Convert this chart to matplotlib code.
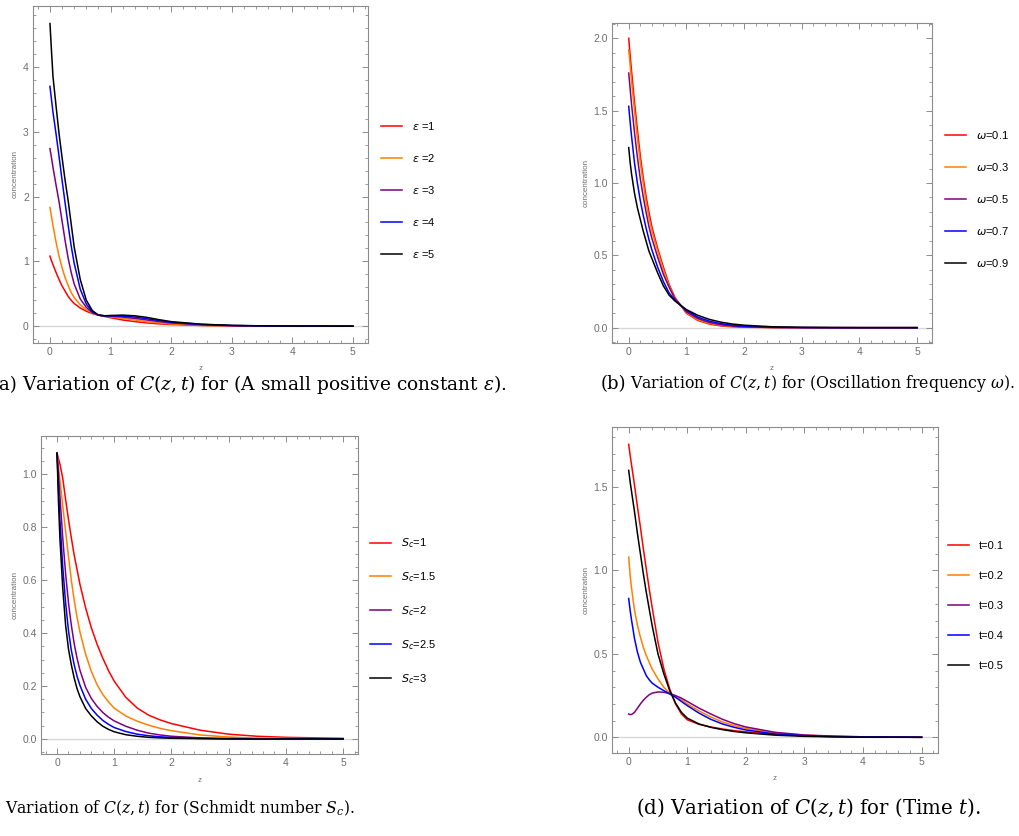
import matplotlib
matplotlib.use("Agg")
import matplotlib.pyplot as plt
from matplotlib.lines import Line2D
from matplotlib.ticker import MultipleLocator, FormatStrFormatter

# z grid shared by all panels
z = [0, 0.025, 0.05, 0.1, 0.15, 0.2, 0.25, 0.3, 0.35, 0.4, 0.5, 0.6, 0.7, 0.8,
     0.9, 1.0, 1.2, 1.4, 1.6, 1.8, 2.0, 2.5, 3.0, 3.5, 4.0, 5.0]

# (a) small positive constant epsilon
eps_labels = [r"$\epsilon$ =1", r"$\epsilon$ =2", r"$\epsilon$ =3", r"$\epsilon$ =4", r"$\epsilon$ =5"]
conc_eps = [
    [1.08, 1.01, 0.95, 0.83, 0.72, 0.62, 0.54, 0.46, 0.40, 0.35, 0.28, 0.23, 0.195, 0.17, 0.15, 0.13, 0.095, 0.07, 0.05, 0.035, 0.025, 0.01, 0.004, 0.002, 0.001, 0.0],
    [1.83, 1.69, 1.55, 1.30, 1.08, 0.90, 0.75, 0.63, 0.52, 0.44, 0.33, 0.255, 0.205, 0.17, 0.155, 0.145, 0.12, 0.095, 0.07, 0.05, 0.035, 0.015, 0.006, 0.003, 0.001, 0.0],
    [2.74, 2.60, 2.45, 2.18, 1.92, 1.62, 1.32, 1.05, 0.83, 0.65, 0.42, 0.29, 0.21, 0.17, 0.16, 0.155, 0.14, 0.12, 0.095, 0.07, 0.05, 0.02, 0.008, 0.003, 0.001, 0.0],
    [3.70, 3.50, 3.30, 2.97, 2.62, 2.25, 1.90, 1.56, 1.24, 0.97, 0.57, 0.34, 0.22, 0.17, 0.16, 0.16, 0.155, 0.14, 0.115, 0.085, 0.06, 0.027, 0.01, 0.004, 0.002, 0.0],
    [4.67, 4.25, 3.85, 3.40, 2.97, 2.60, 2.25, 1.94, 1.58, 1.22, 0.72, 0.40, 0.24, 0.17, 0.16, 0.165, 0.17, 0.16, 0.135, 0.10, 0.07, 0.03, 0.012, 0.005, 0.002, 0.0],
]

# (b) oscillation frequency omega
omega_labels = [r"$\omega$=0.1", r"$\omega$=0.3", r"$\omega$=0.5", r"$\omega$=0.7", r"$\omega$=0.9"]
conc_omega = [
    [2.00, 1.88, 1.77, 1.56, 1.37, 1.19, 1.04, 0.91, 0.80, 0.70, 0.55, 0.42, 0.30, 0.21, 0.155, 0.10, 0.05, 0.025, 0.012, 0.006, 0.003, 0.001, 0, 0, 0, 0],
    [1.92, 1.81, 1.70, 1.50, 1.31, 1.14, 1.00, 0.87, 0.76, 0.67, 0.53, 0.40, 0.29, 0.205, 0.155, 0.105, 0.055, 0.03, 0.016, 0.009, 0.005, 0.001, 0, 0, 0, 0],
    [1.76, 1.65, 1.54, 1.35, 1.18, 1.03, 0.91, 0.80, 0.70, 0.62, 0.49, 0.37, 0.28, 0.20, 0.155, 0.11, 0.063, 0.036, 0.02, 0.011, 0.006, 0.001, 0.0005, 0, 0, 0],
    [1.53, 1.42, 1.32, 1.14, 1.00, 0.88, 0.78, 0.69, 0.61, 0.54, 0.42, 0.32, 0.24, 0.19, 0.155, 0.12, 0.072, 0.045, 0.028, 0.017, 0.01, 0.003, 0.001, 0, 0, 0],
    [1.245, 1.14, 1.06, 0.93, 0.83, 0.75, 0.67, 0.60, 0.53, 0.48, 0.38, 0.29, 0.225, 0.185, 0.155, 0.125, 0.085, 0.057, 0.038, 0.025, 0.017, 0.006, 0.002, 0.001, 0, 0],
]

# (c) Schmidt number
sc_labels = [r"$S_c$=1", r"$S_c$=1.5", r"$S_c$=2", r"$S_c$=2.5", r"$S_c$=3"]
conc_sc = [
    [1.08, 1.06, 1.04, 0.985, 0.905, 0.83, 0.76, 0.695, 0.64, 0.585, 0.495, 0.42, 0.358, 0.305, 0.258, 0.218, 0.158, 0.117, 0.09, 0.072, 0.058, 0.033, 0.018, 0.01, 0.006, 0.002],
    [1.08, 1.03, 0.98, 0.88, 0.785, 0.69, 0.6, 0.525, 0.46, 0.405, 0.32, 0.255, 0.205, 0.168, 0.14, 0.116, 0.087, 0.067, 0.052, 0.04, 0.031, 0.015, 0.007, 0.003, 0.002, 0.0],
    [1.08, 1.00, 0.92, 0.76, 0.625, 0.515, 0.43, 0.36, 0.305, 0.26, 0.195, 0.153, 0.123, 0.1, 0.082, 0.068, 0.048, 0.033, 0.022, 0.015, 0.01, 0.004, 0.0015, 0.0005, 0, 0],
    [1.08, 0.95, 0.83, 0.65, 0.515, 0.41, 0.335, 0.28, 0.237, 0.203, 0.15, 0.115, 0.09, 0.07, 0.055, 0.043, 0.028, 0.018, 0.012, 0.008, 0.005, 0.002, 0.0005, 0, 0, 0],
    [1.08, 0.90, 0.76, 0.57, 0.43, 0.34, 0.28, 0.23, 0.19, 0.16, 0.115, 0.087, 0.065, 0.048, 0.036, 0.027, 0.016, 0.01, 0.006, 0.004, 0.0025, 0.001, 0, 0, 0, 0],
]

# (d) time t
t_labels = ["t=0.1", "t=0.2", "t=0.3", "t=0.4", "t=0.5"]
conc_t = [
    [1.756, 1.69, 1.63, 1.51, 1.38, 1.26, 1.13, 1.01, 0.89, 0.78, 0.57, 0.41, 0.29, 0.20, 0.14, 0.105, 0.078, 0.062, 0.05, 0.04, 0.033, 0.018, 0.009, 0.005, 0.002, 0.0],
    [1.08, 0.97, 0.89, 0.76, 0.67, 0.60, 0.54, 0.49, 0.45, 0.41, 0.35, 0.30, 0.265, 0.245, 0.225, 0.20, 0.158, 0.122, 0.092, 0.07, 0.053, 0.026, 0.012, 0.006, 0.003, 0.001],
    [0.14, 0.136, 0.137, 0.15, 0.175, 0.20, 0.222, 0.24, 0.255, 0.265, 0.272, 0.27, 0.262, 0.25, 0.235, 0.215, 0.175, 0.14, 0.108, 0.082, 0.062, 0.03, 0.014, 0.007, 0.003, 0.001],
    [0.832, 0.76, 0.70, 0.59, 0.51, 0.45, 0.41, 0.37, 0.345, 0.325, 0.30, 0.28, 0.26, 0.24, 0.215, 0.19, 0.145, 0.108, 0.08, 0.06, 0.044, 0.02, 0.009, 0.004, 0.002, 0.0],
    [1.60, 1.53, 1.47, 1.35, 1.22, 1.10, 0.98, 0.87, 0.77, 0.67, 0.50, 0.38, 0.28, 0.205, 0.15, 0.115, 0.08, 0.06, 0.046, 0.035, 0.027, 0.013, 0.006, 0.003, 0.001, 0.0],
]

colors = ["#ff0000", "#ff8000", "#800080", "#0000ff", "#000000"]

W, H = 1019, 836
plt.rcParams["font.family"] = "Liberation Sans"
plt.rcParams["mathtext.fontset"] = "dejavusans"
fig = plt.figure(figsize=(W / 100, H / 100), dpi=100)

def px_axes(left, top, right, bottom):
    return fig.add_axes([left / W, 1 - bottom / H, (right - left) / W, (bottom - top) / H])

# panel: (box in px, ylim, y major, y minor, data, labels, legend center px, legend left px)
panels = [
    ((33, 6, 368, 343), (-0.26, 4.94), 1, 0.2, conc_eps, eps_labels, 190, 381),
    ((612, 23, 932, 343), (-0.106, 2.106), 0.5, 0.1, conc_omega, omega_labels, 199, 945),
    ((41, 436, 358, 754), (-0.057, 1.145), 0.2, 0.05, conc_sc, sc_labels, 611, 370),
    ((612, 427, 938, 753), (-0.094, 1.86), 0.5, 0.1, conc_t, t_labels, 606, 948),
]
xlims = [(-0.28, 5.25), (-0.29, 5.26), (-0.28, 5.26), (-0.285, 5.28)]

frame_col = "#8c8c8c"
for (box, ylim, ymaj, ymin, data, labels, leg_y, leg_x), xlim in zip(panels, xlims):
    ax = px_axes(*box)
    ax.axhline(0, color="#d8d8d8", lw=1.0, zorder=0)
    for vals, c in zip(data, colors):
        ax.plot(z, vals, color=c, lw=1.1, solid_joinstyle="round")
    ax.set_xlim(*xlim)
    ax.set_ylim(*ylim)
    ax.xaxis.set_major_locator(MultipleLocator(1))
    ax.xaxis.set_minor_locator(MultipleLocator(0.2))
    ax.yaxis.set_major_locator(MultipleLocator(ymaj))
    ax.yaxis.set_minor_locator(MultipleLocator(ymin))
    if ymaj < 1:
        ax.yaxis.set_major_formatter(FormatStrFormatter("%.1f"))
    ax.tick_params(which="both", direction="in", top=True, right=True,
                   color=frame_col, labelcolor="#6e6e6e", labelsize=7.5, pad=3)
    ax.tick_params(which="major", length=4, width=0.7)
    ax.tick_params(which="minor", length=2, width=0.6)
    for s in ax.spines.values():
        s.set_color(frame_col)
        s.set_linewidth(0.8)
    ax.set_ylabel("concentration", fontsize=5.8, color="#6e6e6e", labelpad=3)
    ax.set_xlabel("z", fontsize=5.8, color="#6e6e6e", labelpad=6)
    handles = [Line2D([], [], color=c, lw=1.1) for c in colors]
    ax.legend(handles, labels, loc="center left",
              bbox_to_anchor=(leg_x / W, 1 - leg_y / H), bbox_transform=fig.transFigure,
              frameon=False, borderpad=0, borderaxespad=0, fontsize=8,
              handlelength=1.9, handletextpad=0.9, labelspacing=1.8)

# captions under each panel, sized so that they span the same width as in the figure
serif = "DejaVu Serif"
renderer = fig.canvas.get_renderer()

def fit_text(x0, x1, y, s, size=11):
    t = fig.text(x0 / W, 1 - y / H, s, ha="left", va="center", fontsize=size,
                 family=serif, math_fontfamily="dejavuserif")
    w = t.get_window_extent(renderer).width
    t.set_fontsize(size * (x1 - x0) / w)
    return t

def tag(x1, y, s, size):
    fig.text(x1 / W, 1 - y / H, s, ha="right", va="center", fontsize=size,
             family=serif, math_fontfamily="dejavuserif")

tag(17, 385, "(a)", 13)
fit_text(22, 505, 385, r"Variation of $C(z,t)$ for (A small positive constant $\epsilon$).")
tag(626, 384, "(b)", 13)
fit_text(630, 1015, 384, r"Variation of $C(z,t)$ for (Oscillation frequency $\omega$).")
fit_text(5, 355, 808, r"Variation of $C(z,t)$ for (Schmidt number $S_c$).")
fit_text(636, 980, 808, r"(d) Variation of $C(z,t)$ for (Time $t$).")

plt.savefig("out.png", dpi=100)
